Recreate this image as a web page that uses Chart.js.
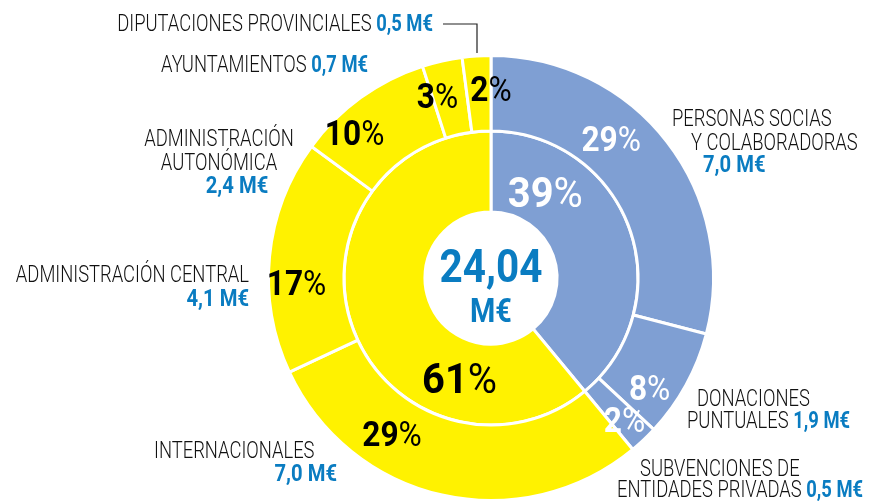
<!DOCTYPE html>
<html>
<head>
<meta charset="utf-8">
<script src="https://cdn.jsdelivr.net/npm/chart.js@4.4.1/dist/chart.umd.min.js"></script>
<style>
  html, body { margin:0; padding:0; background:#fff; overflow:hidden; }
  #wrap { position:relative; width:879px; height:502px; }
  #c { position:absolute; left:0; top:0; }
  #ov { position:absolute; left:0; top:0; width:879px; height:502px; pointer-events:none; }
  text { font-family: Roboto, "Liberation Sans", sans-serif; }
</style>
</head>
<body>
<div id="wrap">
  <canvas id="c" width="879" height="502"></canvas>
  <svg id="ov" width="879" height="502" xmlns="http://www.w3.org/2000/svg"></svg>
</div>
<script>
// ---- DATA ----
const categories = [
  "PERSONAS SOCIAS|Y COLABORADORAS",
  "DONACIONES|PUNTUALES",
  "SUBVENCIONES DE|ENTIDADES PRIVADAS",
  "INTERNACIONALES",
  "ADMINISTRACIÓN CENTRAL",
  "ADMINISTRACIÓN|AUTONÓMICA",
  "AYUNTAMIENTOS",
  "DIPUTACIONES PROVINCIALES"
];
const values = [7.0, 1.9, 0.5, 7.0, 4.1, 2.4, 0.7, 0.5];      // M€
const groups = ["Privados", "Públicos"];
const groupPercent = [39, 61];
const totalLabel = "24,04";
const unitLabel = "M€";

// ---- STYLE ----
const TEXT_BLUE = "#0a7cc1";
const sliceColors = ["#7f9fd3","#7f9fd3","#7f9fd3","#fff200","#fff200","#fff200","#fff200","#fff200"];
const groupColors = ["#7f9fd3","#fff200"];
const sliceTextColors = ["#fff","#fff","#fff","#000","#000","#000","#000","#000"];
const groupTextColors = ["#fff","#000"];
// label placement inside arcs: [fraction along arc, fraction across ring]
const outerLabelPos = [[0.39,0.49],[0.70,0.60],[0.50,0.63],[0.69,0.49],[0.39,0.63],[0.30,0.70],[0.15,0.57],[1.00,0.57]];
const innerLabelPos = [[0.23,0.44],[0.26,0.48]];
const COND = 0.80;     // horizontal condensing of regular text
const COND_B = 0.88;   // horizontal condensing of bold values
const FS = 23;

// external label layout: value shown inline on last line or on its own line
const extLayout = [
  {lines:[[672,126,'start'],[691,150,'start']], val:[703,172,'start']},
  {lines:[[697,406,'start'],[687,428,'start']], val:'inline'},
  {lines:[[640,476,'start'],[617,497,'start']], val:'inline'},
  {lines:[[154,458,'start']], val:[337,481,'end']},
  {lines:[[249,282,'end']], val:[249,306,'end']},
  {lines:[[219,146,'middle'],[219,170,'middle']], val:[237,193,'middle']},
  {lines:[[161,72,'start']], val:'inline'},
  {lines:[[433,31,'end']], val:'inline'}
];

const fmt = v => v.toFixed(1).replace('.', ',') + ' ' + unitLabel;
const total = values.reduce((a,b)=>a+b,0);

const SVGNS = "http://www.w3.org/2000/svg";
const ov = document.getElementById('ov');
function mk(tag, attrs, parent) {
  const e = document.createElementNS(SVGNS, tag);
  for (const k in attrs) e.setAttribute(k, attrs[k]);
  (parent || ov).appendChild(e);
  return e;
}
function tspan(parent, txt, attrs) {
  const t = mk('tspan', attrs || {}, parent);
  t.textContent = txt;
  return t;
}
// external labels
extLayout.forEach((L, i) => {
  const lines = categories[i].split('|');
  lines.forEach((ln, k) => {
    const [x, y, anchor] = L.lines[k];
    const t = mk('text', {transform:`translate(${x},${y}) scale(${COND},1)`, 'text-anchor':anchor,
      'font-size':FS, 'font-weight':300, fill:'#111'});
    tspan(t, ln);
    if (L.val === 'inline' && k === lines.length - 1) {
      tspan(t, ' ' + fmt(values[i]), {'font-weight':700, fill:TEXT_BLUE});
    }
  });
  if (L.val !== 'inline') {
    const [x, y, anchor] = L.val;
    const t = mk('text', {transform:`translate(${x},${y}) scale(${COND_B},1)`, 'text-anchor':anchor,
      'font-size':FS, 'font-weight':700, fill:TEXT_BLUE});
    tspan(t, fmt(values[i]));
  }
});
// leader line for the small top slice
mk('polyline', {points:'443,24 477,24 477,53', fill:'none', stroke:'#222', 'stroke-width':1.2});

// center label
{
  const t1 = mk('text', {transform:`translate(491,282) scale(0.88,1)`, 'text-anchor':'middle',
    'font-size':46, 'font-weight':700, fill:TEXT_BLUE});
  tspan(t1, totalLabel);
  const t2 = mk('text', {transform:`translate(491,322) scale(0.85,1)`, 'text-anchor':'middle',
    'font-size':34, 'font-weight':700, fill:TEXT_BLUE});
  tspan(t2, unitLabel);
}

// percent labels (positioned from arc geometry)
const pctNodes = [[], []];
function pctLabel(num, color, fs) {
  const t = mk('text', {'text-anchor':'middle', 'font-size':fs, fill:color});
  tspan(t, String(num), {'font-weight':700});
  tspan(t, '%', {'font-weight':400});
  return t;
}
values.forEach((v, i) => pctNodes[0].push(pctLabel(Math.round(v / total * 100), sliceTextColors[i], 36)));
groupPercent.forEach((v, i) => pctNodes[1].push(pctLabel(v, groupTextColors[i], 42)));

const labelPlugin = {
  id: 'arcLabels',
  afterDraw(chart) {
    [[0, outerLabelPos, 36, 0.88], [1, innerLabelPos, 42, 0.95]].forEach(([di, pos, fs, sx]) => {
      const meta = chart.getDatasetMeta(di);
      meta.data.forEach((arc, j) => {
        const p = arc.getProps(['x','y','startAngle','endAngle','innerRadius','outerRadius'], true);
        const a = p.startAngle + pos[j][0] * (p.endAngle - p.startAngle);
        const r = p.innerRadius + pos[j][1] * (p.outerRadius - p.innerRadius);
        const cx = p.x + r * Math.cos(a);
        const cy = p.y + r * Math.sin(a) + 0.355 * fs;
        pctNodes[di][j].setAttribute('transform', `translate(${cx.toFixed(1)},${cy.toFixed(1)}) scale(${sx},1)`);
      });
    });
  }
};

new Chart(document.getElementById('c'), {
  type: 'doughnut',
  data: {
    labels: categories.map(c => c.replace('|', ' ')),
    datasets: [
      {label:'Fuentes', data: values, backgroundColor: sliceColors, borderColor:'#fff', borderWidth:3, weight:75.5},
      {label:'Grupos', data: groupPercent, backgroundColor: groupColors, borderColor:'#fff', borderWidth:3, weight:81}
    ]
  },
  options: {
    responsive: false,
    animation: false,
    cutout: '29.7%',
    layout: { padding: { left:267, right:164, top:54, bottom:0 } },
    plugins: { legend:{display:false}, tooltip:{enabled:false} }
  },
  plugins: [labelPlugin]
});
</script>
</body>
</html>
